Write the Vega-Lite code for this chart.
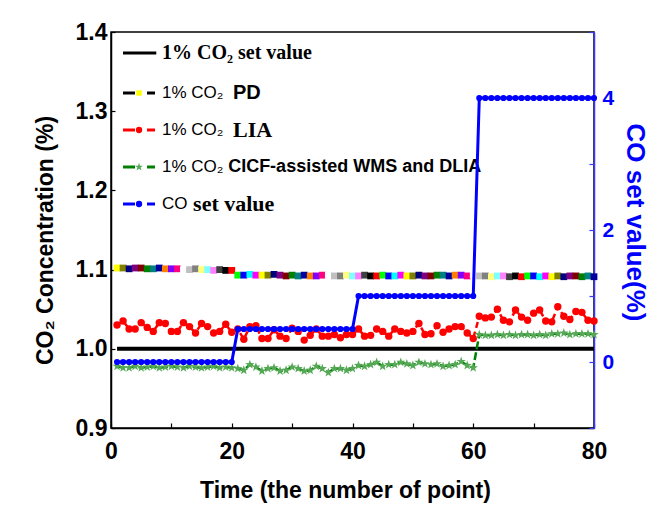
{
  "$schema": "https://vega.github.io/schema/vega-lite/v6.json",
  "width": 483,
  "height": 396,
  "autosize": {"type": "none"},
  "padding": {"left": 111, "top": 32, "right": 73, "bottom": 77},
  "background": "white",
  "config": {
    "view": {"stroke": "#000", "strokeWidth": 1.5},
    "axis": {
      "grid": false, "labelFlush": false,
      "labelFont": "Liberation Sans", "labelFontWeight": "bold", "labelFontSize": 23, "labelColor": "#000",
      "titleFont": "Liberation Sans", "titleFontWeight": "bold", "titleFontSize": 23, "titleColor": "#000",
      "domainColor": "#000", "domainWidth": 1.5, "tickColor": "#000", "tickWidth": 1.2
    }
  },
  "data": {"values": [
    {"x":1,"set":1,"pd":1.102,"lia":1.030,"cicf":0.978,"co":0},
    {"x":2,"set":1,"pd":1.102,"lia":1.035,"cicf":0.976,"co":0},
    {"x":3,"set":1,"pd":1.101,"lia":1.025,"cicf":0.976,"co":0},
    {"x":4,"set":1,"pd":1.102,"lia":1.025,"cicf":0.978,"co":0},
    {"x":5,"set":1,"pd":1.102,"lia":1.033,"cicf":0.976,"co":0},
    {"x":6,"set":1,"pd":1.101,"lia":1.027,"cicf":0.977,"co":0},
    {"x":7,"set":1,"pd":1.101,"lia":1.022,"cicf":0.978,"co":0},
    {"x":8,"set":1,"pd":1.102,"lia":1.033,"cicf":0.976,"co":0},
    {"x":9,"set":1,"pd":1.101,"lia":1.032,"cicf":0.977,"co":0},
    {"x":10,"set":1,"pd":1.101,"lia":1.022,"cicf":0.978,"co":0},
    {"x":11,"set":1,"pd":1.101,"lia":1.022,"cicf":0.977,"co":0},
    {"x":12,"set":1,"pd":1.100,"lia":1.033,"cicf":0.976,"co":0},
    {"x":13,"set":1,"pd":1.100,"lia":1.028,"cicf":0.978,"co":0},
    {"x":14,"set":1,"pd":1.101,"lia":1.020,"cicf":0.977,"co":0},
    {"x":15,"set":1,"pd":1.100,"lia":1.032,"cicf":0.976,"co":0},
    {"x":16,"set":1,"pd":1.100,"lia":1.028,"cicf":0.977,"co":0},
    {"x":17,"set":1,"pd":1.099,"lia":1.020,"cicf":0.978,"co":0},
    {"x":18,"set":1,"pd":1.100,"lia":1.022,"cicf":0.976,"co":0},
    {"x":19,"set":1,"pd":1.099,"lia":1.031,"cicf":0.977,"co":0},
    {"x":20,"set":1,"pd":1.099,"lia":1.021,"cicf":0.976,"co":0},
    {"x":21,"set":1,"pd":1.093,"lia":1.025,"cicf":0.975,"co":0.5},
    {"x":22,"set":1,"pd":1.093,"lia":1.012,"cicf":0.973,"co":0.5},
    {"x":23,"set":1,"pd":1.094,"lia":1.028,"cicf":0.980,"co":0.5},
    {"x":24,"set":1,"pd":1.093,"lia":1.029,"cicf":0.977,"co":0.5},
    {"x":25,"set":1,"pd":1.093,"lia":1.013,"cicf":0.972,"co":0.5},
    {"x":26,"set":1,"pd":1.093,"lia":1.013,"cicf":0.975,"co":0.5},
    {"x":27,"set":1,"pd":1.094,"lia":1.024,"cicf":0.976,"co":0.5},
    {"x":28,"set":1,"pd":1.093,"lia":1.016,"cicf":0.972,"co":0.5},
    {"x":29,"set":1,"pd":1.092,"lia":1.013,"cicf":0.973,"co":0.5},
    {"x":30,"set":1,"pd":1.093,"lia":1.026,"cicf":0.977,"co":0.5},
    {"x":31,"set":1,"pd":1.092,"lia":1.022,"cicf":0.975,"co":0.5},
    {"x":32,"set":1,"pd":1.093,"lia":1.011,"cicf":0.972,"co":0.5},
    {"x":33,"set":1,"pd":1.092,"lia":1.017,"cicf":0.973,"co":0.5},
    {"x":34,"set":1,"pd":1.092,"lia":1.025,"cicf":0.978,"co":0.5},
    {"x":35,"set":1,"pd":1.093,"lia":1.016,"cicf":0.975,"co":0.5},
    {"x":36,"set":1,"pd":1.093,"lia":1.016,"cicf":0.970,"co":0.5},
    {"x":37,"set":1,"pd":1.092,"lia":1.018,"cicf":0.975,"co":0.5},
    {"x":38,"set":1,"pd":1.092,"lia":1.014,"cicf":0.975,"co":0.5},
    {"x":39,"set":1,"pd":1.093,"lia":1.018,"cicf":0.973,"co":0.5},
    {"x":40,"set":1,"pd":1.092,"lia":1.018,"cicf":0.975,"co":0.5},
    {"x":41,"set":1,"pd":1.092,"lia":1.025,"cicf":0.979,"co":1},
    {"x":42,"set":1,"pd":1.093,"lia":1.016,"cicf":0.978,"co":1},
    {"x":43,"set":1,"pd":1.092,"lia":1.017,"cicf":0.980,"co":1},
    {"x":44,"set":1,"pd":1.092,"lia":1.025,"cicf":0.983,"co":1},
    {"x":45,"set":1,"pd":1.093,"lia":1.022,"cicf":0.978,"co":1},
    {"x":46,"set":1,"pd":1.092,"lia":1.016,"cicf":0.980,"co":1},
    {"x":47,"set":1,"pd":1.092,"lia":1.025,"cicf":0.980,"co":1},
    {"x":48,"set":1,"pd":1.093,"lia":1.022,"cicf":0.983,"co":1},
    {"x":49,"set":1,"pd":1.092,"lia":1.020,"cicf":0.981,"co":1},
    {"x":50,"set":1,"pd":1.092,"lia":1.022,"cicf":0.979,"co":1},
    {"x":51,"set":1,"pd":1.093,"lia":1.032,"cicf":0.983,"co":1},
    {"x":52,"set":1,"pd":1.092,"lia":1.018,"cicf":0.981,"co":1},
    {"x":53,"set":1,"pd":1.092,"lia":1.019,"cicf":0.980,"co":1},
    {"x":54,"set":1,"pd":1.093,"lia":1.029,"cicf":0.981,"co":1},
    {"x":55,"set":1,"pd":1.093,"lia":1.021,"cicf":0.978,"co":1},
    {"x":56,"set":1,"pd":1.092,"lia":1.025,"cicf":0.979,"co":1},
    {"x":57,"set":1,"pd":1.093,"lia":1.028,"cicf":0.980,"co":1},
    {"x":58,"set":1,"pd":1.093,"lia":1.028,"cicf":0.984,"co":1},
    {"x":59,"set":1,"pd":1.092,"lia":1.020,"cicf":0.979,"co":1},
    {"x":60,"set":1,"pd":1.093,"lia":1.013,"cicf":0.976,"co":1},
    {"x":61,"set":1,"pd":1.092,"lia":1.041,"cicf":1.018,"co":4},
    {"x":62,"set":1,"pd":1.092,"lia":1.039,"cicf":1.017,"co":4},
    {"x":63,"set":1,"pd":1.091,"lia":1.040,"cicf":1.017,"co":4},
    {"x":64,"set":1,"pd":1.092,"lia":1.050,"cicf":1.018,"co":4},
    {"x":65,"set":1,"pd":1.092,"lia":1.036,"cicf":1.017,"co":4},
    {"x":66,"set":1,"pd":1.091,"lia":1.034,"cicf":1.018,"co":4},
    {"x":67,"set":1,"pd":1.092,"lia":1.049,"cicf":1.017,"co":4},
    {"x":68,"set":1,"pd":1.091,"lia":1.040,"cicf":1.018,"co":4},
    {"x":69,"set":1,"pd":1.092,"lia":1.036,"cicf":1.018,"co":4},
    {"x":70,"set":1,"pd":1.092,"lia":1.045,"cicf":1.017,"co":4},
    {"x":71,"set":1,"pd":1.091,"lia":1.049,"cicf":1.018,"co":4},
    {"x":72,"set":1,"pd":1.092,"lia":1.035,"cicf":1.017,"co":4},
    {"x":73,"set":1,"pd":1.091,"lia":1.034,"cicf":1.019,"co":4},
    {"x":74,"set":1,"pd":1.092,"lia":1.053,"cicf":1.019,"co":4},
    {"x":75,"set":1,"pd":1.091,"lia":1.041,"cicf":1.020,"co":4},
    {"x":76,"set":1,"pd":1.092,"lia":1.037,"cicf":1.018,"co":4},
    {"x":77,"set":1,"pd":1.092,"lia":1.047,"cicf":1.019,"co":4},
    {"x":78,"set":1,"pd":1.091,"lia":1.046,"cicf":1.019,"co":4},
    {"x":79,"set":1,"pd":1.092,"lia":1.036,"cicf":1.019,"co":4},
    {"x":80,"set":1,"pd":1.091,"lia":1.035,"cicf":1.018,"co":4}
  ]},
  "layer": [
    {
      "layer": [
        {
          "mark": {"type": "line", "color": "#000", "strokeWidth": 4},
          "encoding": {
            "x": {"field": "x", "type": "quantitative",
              "scale": {"domain": [0, 80], "nice": false},
              "axis": {"title": "Time (the number of point)", "values": [0,10,20,30,40,50,60,70,80],
                "labelExpr": "datum.value % 20 === 0 ? datum.label : ''",
                "tickSize": -5, "labelPadding": 17, "titleX": 234, "titleY": 69, "titleBaseline": "alphabetic"}},
            "y": {"field": "set", "type": "quantitative",
              "scale": {"domain": [0.9, 1.4], "nice": false, "zero": false},
              "axis": {"title": "CO₂ Concentration (%)",
                "values": [0.9,0.95,1.0,1.05,1.1,1.15,1.2,1.25,1.3,1.35,1.4],
                "labelExpr": "abs(datum.value*10 - round(datum.value*10)) < 1e-6 ? format(datum.value, '.1f') : ''",
                "tickSize": -4,
                "labelPadding": 8,
                "titleAngle": -90, "titleX": -59, "titleY": 208, "titleBaseline": "alphabetic", "titleAlign": "center"}}
          }
        },
        {
          "mark": {"type": "point", "shape": "square", "filled": true, "size": 46, "opacity": 1},
          "encoding": {
            "x": {"field": "x", "type": "quantitative"},
            "y": {"field": "pd", "type": "quantitative"},
            "color": {"field": "x", "type": "nominal", "legend": null,
              "scale": {"range": ["#FFFF00","#808000","#000080","#800080","#800000","#008000","#008080","#0000A0","#FF8000","#8000FF","#FF0080","#FFFFFF","#C0C0C0","#808080","#FFFF80","#80FFFF","#FF80FF","#404040","#000000","#FF0000","#00FF00","#0000FF","#00FFFF","#FF00FF"]}}
          }
        },
        {
          "mark": {"type": "line", "color": "#FF0000", "strokeWidth": 2.5, "strokeDash": [6, 4]},
          "encoding": {"x": {"field": "x", "type": "quantitative"}, "y": {"field": "lia", "type": "quantitative"}}
        },
        {
          "mark": {"type": "point", "shape": "circle", "filled": true, "size": 55, "color": "#FF0000", "opacity": 1},
          "encoding": {"x": {"field": "x", "type": "quantitative"}, "y": {"field": "lia", "type": "quantitative"}}
        },
        {
          "mark": {"type": "line", "color": "#008000", "strokeWidth": 2.5, "strokeDash": [8, 3]},
          "encoding": {"x": {"field": "x", "type": "quantitative"}, "y": {"field": "cicf", "type": "quantitative"}}
        },
        {
          "mark": {"type": "point", "shape": "M0,-1L0.235,-0.324L0.951,-0.309L0.38,0.124L0.588,0.809L0,0.4L-0.588,0.809L-0.38,0.124L-0.951,-0.309L-0.235,-0.324Z", "filled": true, "size": 95, "color": "#55a855", "opacity": 1},
          "encoding": {"x": {"field": "x", "type": "quantitative"}, "y": {"field": "cicf", "type": "quantitative"}}
        },
        {
          "data": {"values": [{}]},
          "layer": [
            {"mark": {"type": "rule", "color": "#000", "strokeWidth": 3}, "encoding": {"x": {"datum": 1.99}, "x2": {"datum": 7.5}, "y": {"datum": 1.3735}}},
            {"mark": {"type": "rule", "color": "#000", "strokeWidth": 3, "strokeDash": [12, 12]}, "encoding": {"x": {"datum": 1.99}, "x2": {"datum": 7.29}, "y": {"datum": 1.323}}},
            {"mark": {"type": "point", "shape": "square", "filled": true, "size": 30, "color": "#FFFF00", "opacity": 1}, "encoding": {"x": {"datum": 4.64}, "y": {"datum": 1.323}}},
            {"mark": {"type": "rule", "color": "#FF0000", "strokeWidth": 3, "strokeDash": [12, 12]}, "encoding": {"x": {"datum": 1.99}, "x2": {"datum": 7.29}, "y": {"datum": 1.2763}}},
            {"mark": {"type": "point", "shape": "circle", "filled": true, "size": 40, "color": "#FF0000", "opacity": 1}, "encoding": {"x": {"datum": 4.64}, "y": {"datum": 1.2763}}},
            {"mark": {"type": "rule", "color": "#008000", "strokeWidth": 3, "strokeDash": [12, 12]}, "encoding": {"x": {"datum": 1.99}, "x2": {"datum": 7.29}, "y": {"datum": 1.2295}}},
            {"mark": {"type": "point", "shape": "M0,-1L0.235,-0.324L0.951,-0.309L0.38,0.124L0.588,0.809L0,0.4L-0.588,0.809L-0.38,0.124L-0.951,-0.309L-0.235,-0.324Z", "filled": true, "size": 70, "color": "#55a855", "opacity": 1}, "encoding": {"x": {"datum": 4.64}, "y": {"datum": 1.2295}}},
            {"mark": {"type": "rule", "color": "#0000FF", "strokeWidth": 3, "strokeDash": [12, 12]}, "encoding": {"x": {"datum": 1.99}, "x2": {"datum": 7.29}, "y": {"datum": 1.1828}}},
            {"mark": {"type": "point", "shape": "circle", "filled": true, "size": 40, "color": "#0000FF", "opacity": 1}, "encoding": {"x": {"datum": 4.64}, "y": {"datum": 1.1828}}},
            {"mark": {"type": "text", "align": "left", "baseline": "middle", "font": "Liberation Serif", "fontWeight": "bold", "fontSize": 20, "color": "#000"},
              "encoding": {"x": {"datum": 8.45}, "y": {"datum": 1.3735}, "text": {"value": "1% CO₂ set value"}}},
            {"mark": {"type": "text", "align": "left", "baseline": "middle", "font": "Liberation Sans", "fontSize": 17, "color": "#000"},
              "encoding": {"x": {"datum": 8.45}, "y": {"datum": 1.323}, "text": {"value": "1% CO₂"}}},
            {"mark": {"type": "text", "align": "left", "baseline": "middle", "font": "Liberation Sans", "fontWeight": "bold", "fontSize": 20, "color": "#000"},
              "encoding": {"x": {"datum": 20.2}, "y": {"datum": 1.323}, "text": {"value": "PD"}}},
            {"mark": {"type": "text", "align": "left", "baseline": "middle", "font": "Liberation Sans", "fontSize": 17, "color": "#000"},
              "encoding": {"x": {"datum": 8.45}, "y": {"datum": 1.2763}, "text": {"value": "1% CO₂"}}},
            {"mark": {"type": "text", "align": "left", "baseline": "middle", "font": "Liberation Serif", "fontWeight": "bold", "fontSize": 22, "color": "#000"},
              "encoding": {"x": {"datum": 20.2}, "y": {"datum": 1.2763}, "text": {"value": "LIA"}}},
            {"mark": {"type": "text", "align": "left", "baseline": "middle", "font": "Liberation Sans", "fontSize": 17, "color": "#000"},
              "encoding": {"x": {"datum": 8.45}, "y": {"datum": 1.2295}, "text": {"value": "1% CO₂"}}},
            {"mark": {"type": "text", "align": "left", "baseline": "middle", "font": "Liberation Sans", "fontWeight": "bold", "fontSize": 18, "color": "#000"},
              "encoding": {"x": {"datum": 19.4}, "y": {"datum": 1.2295}, "text": {"value": "CICF-assisted WMS and DLIA"}}},
            {"mark": {"type": "text", "align": "left", "baseline": "middle", "font": "Liberation Sans", "fontSize": 17, "color": "#000"},
              "encoding": {"x": {"datum": 8.45}, "y": {"datum": 1.1828}, "text": {"value": "CO"}}},
            {"mark": {"type": "text", "align": "left", "baseline": "middle", "font": "Liberation Serif", "fontWeight": "bold", "fontSize": 22, "color": "#000"},
              "encoding": {"x": {"datum": 13.6}, "y": {"datum": 1.1828}, "text": {"value": "set value"}}}
          ]
        }
      ]
    },
    {
      "layer": [
        {
          "mark": {"type": "line", "color": "#0000FF", "strokeWidth": 3},
          "encoding": {
            "x": {"field": "x", "type": "quantitative"},
            "y": {"field": "co", "type": "quantitative",
              "scale": {"domain": [-1, 5], "nice": false, "zero": false},
              "axis": {"orient": "right", "title": "CO set value(%)",
                "values": [-1,0,1,2,3,4,5], "format": "d",
                "labelExpr": "datum.value >= 0 && datum.value % 2 === 0 ? datum.label : ''",
                "tickSize": -5, "labelPadding": 13, "labelFontSize": 21,
                "labelColor": "#0000FF", "titleColor": "#0000FF", "domainColor": "#3a3aff", "tickColor": "#3a3aff",
                "titleFontSize": 26, "titleAngle": 90, "titleX": 32, "titleY": 190, "titleBaseline": "alphabetic", "titleAlign": "center"}}
          }
        },
        {
          "mark": {"type": "point", "shape": "circle", "filled": true, "size": 38, "color": "#0000FF", "opacity": 1},
          "encoding": {"x": {"field": "x", "type": "quantitative"}, "y": {"field": "co", "type": "quantitative"}}
        }
      ]
    }
  ],
  "resolve": {"scale": {"y": "independent"}}
}
